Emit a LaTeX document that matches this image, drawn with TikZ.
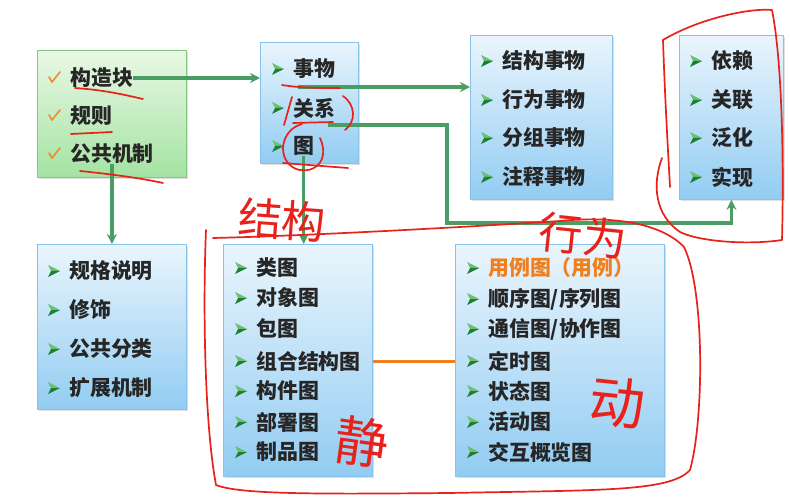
\documentclass[tikz,border=0pt]{standalone}
\usepackage{fontspec}
\setmainfont{Noto Sans CJK SC}
\newfontfamily\cjk{Noto Sans CJK SC}
\usetikzlibrary{shadows,arrows.meta,calc}
\definecolor{txt}{HTML}{262626}
\definecolor{bluetop}{HTML}{EAF5FD}
\definecolor{bluebot}{HTML}{92CCF2}
\definecolor{blueedge}{HTML}{86C2EA}
\definecolor{greentop}{HTML}{E9F8E5}
\definecolor{greenbot}{HTML}{A4E3A2}
\definecolor{greenedge}{HTML}{82C883}
\definecolor{lgreen}{HTML}{4A9E64}
\definecolor{bulldark}{HTML}{1C7F34}
\definecolor{bullight}{HTML}{6CC06E}
\definecolor{orng}{HTML}{F0801E}
\definecolor{chkor}{HTML}{EE8A2A}
\definecolor{pen}{HTML}{E8211B}
\tikzset{
  boxbase/.style={anchor=north west, inner sep=0pt, line width=0.8bp,
    drop shadow={opacity=0.25, shadow xshift=1.5bp, shadow yshift=-1.5bp}},
  bluebox/.style={boxbase, draw=blueedge, top color=bluetop, bottom color=bluebot},
  greenbox/.style={boxbase, draw=greenedge, top color=greentop, bottom color=greenbot},
  itemtext/.style={anchor=west, inner sep=0pt, text=txt,
    font=\cjk\bfseries\fontsize{21}{25}\selectfont},
  conn/.style={draw=lgreen, line width=3.2bp, -{Stealth[length=10bp,width=10bp]}},
  plainconn/.style={draw=orng, line width=3bp},
  chk/.style={draw=chkor, line width=1.6bp, line cap=round, line join=round},
  penline/.style={draw=pen, line width=1.7bp, line cap=round, line join=round},
  pentext/.style={text=pen, inner sep=0pt, font=\cjk\fontsize{44}{44}\selectfont}
}
\newcommand\itm[4]{%
  \fill[bullight] (#2,#3-6) -- (#2+12,#3) -- (#2+3,#3) -- cycle;
  \fill[bulldark] (#2+3,#3) -- (#2+12,#3) -- (#2,#3+6) -- cycle;
  \node[itemtext] (#1) at (#2+21,#3) {#4};}
\newcommand\chkitm[4]{%
  \draw[chk] (#2+1,#3-1) -- (#2+4,#3+4) -- (#2+12,#3-6);
  \node[itemtext] (#1) at (#2+22,#3) {#4};}
\begin{document}
\begin{tikzpicture}[x=1bp,y=-1bp]
\useasboundingbox[fill=white] (0,0) rectangle (790,503);
% boxes
\node[greenbox, minimum width=149bp, minimum height=127bp] (gbox) at (37,50) {};
\node[bluebox, minimum width=98bp, minimum height=121bp] (b1) at (260,42) {};
\node[bluebox, minimum width=142bp, minimum height=164bp] (b2) at (470,35) {};
\node[bluebox, minimum width=104bp, minimum height=164bp] (b3) at (679,35) {};
\node[bluebox, minimum width=149bp, minimum height=165bp] (b4) at (37,244) {};
\node[bluebox, minimum width=149bp, minimum height=232bp] (b5) at (223,244) {};
\node[bluebox, minimum width=209bp, minimum height=232bp] (b6) at (455,244) {};
% items
\chkitm{gk}{48}{78}{构造块}
\chkitm{gr}{48}{116}{规则}
\chkitm{gm}{48}{154}{公共机制}
\itm{sw}{272}{69}{事物}
\itm{gx}{272}{108}{关系}
\itm{tu}{272}{146}{图}
\itm{s1}{481}{61}{结构事物}
\itm{s2}{481}{100}{行为事物}
\itm{s3}{481}{138}{分组事物}
\itm{s4}{481}{177}{注释事物}
\itm{r1}{690}{61}{依赖}
\itm{r2}{690}{100}{关联}
\itm{r3}{690}{138}{泛化}
\itm{r4}{690}{177}{实现}
\itm{m1}{48}{271}{规格说明}
\itm{m2}{48}{310}{修饰}
\itm{m3}{48}{349}{公共分类}
\itm{m4}{48}{388}{扩展机制}
\itm{d1}{235}{268}{类图}
\itm{d2}{235}{298}{对象图}
\itm{d3}{235}{329}{包图}
\itm{d4}{235}{361}{组合结构图}
\itm{d5}{235}{391}{构件图}
\itm{d6}{235}{422}{部署图}
\itm{d7}{235}{452}{制品图}
\itm{u1}{467}{268}{\textcolor{orng}{用例图（用例）}}
\itm{u2}{467}{299}{顺序图/序列图}
\itm{u3}{467}{329}{通信图/协作图}
\itm{u4}{467}{361}{定时图}
\itm{u5}{467}{391}{状态图}
\itm{u6}{467}{422}{活动图}
\itm{u7}{467}{452}{交互概览图}
% connectors
\coordinate (c1) at (298,87);
\coordinate (c2) at (328,125);
\coordinate (c3) at (447,223);
\draw[conn] (gk.east) -- (gk.east -| b1.west);
\draw[conn] (c1) -- (c1 -| b2.west);
\draw[conn] (c2) -| (c3) -| (b3.south);
\draw[conn] (gm.south -| b4.north) -- (b4.north);
\draw[conn] (tu.south) -- (tu.south |- b5.north);
\draw[plainconn] (d4 -| b5.east) -- (d4 -| b6.west);
% red pen annotations
\draw[penline] (75,88) .. controls (105,90) and (125,95) .. (143,99);
\draw[penline] (71,134) -- (112,132);
\draw[penline] (80,171) .. controls (110,174) and (140,178) .. (163,183);
\draw[penline] (282,85) .. controls (300,88) and (320,88) .. (340,88);
\draw[penline] (292,97) -- (284,125);
\draw[penline] (343,96) .. controls (356,105) and (356,122) .. (345,130);
\draw[penline] (293,123) -- (333,122);
\draw[penline] (302,124) .. controls (280,130) and (276,160) .. (296,169)
  .. controls (315,175) and (330,160) .. (320,138);
\draw[penline] (283,163) -- (348,168);
\draw[penline] (663,40) .. controls (700,18) and (750,8) .. (772,10)
  .. controls (782,60) and (784,160) .. (782,240)
  .. controls (750,245) and (700,242) .. (680,232)
  .. controls (655,215) and (652,185) .. (662,158);
\draw[penline] (663,40) .. controls (665,100) and (668,150) .. (670,187);
\draw[penline] (213,238) .. controls (300,236) and (450,228) .. (560,221)
  .. controls (610,216) and (660,222) .. (684,247)
  .. controls (705,290) and (704,420) .. (690,470)
  .. controls (670,492) and (600,490) .. (450,493)
  .. controls (330,494) and (240,495) .. (216,485)
  .. controls (204,420) and (203,300) .. (206,230);
\node[pentext, rotate=-4] (hw1) at (282,220) {结构};
\node[pentext, rotate=-6] (hw2) at (583,236) {行为};
\node[pentext, font=\cjk\fontsize{54}{54}\selectfont, rotate=-8] (hw3) at (362,442) {静};
\node[pentext, font=\cjk\fontsize{56}{56}\selectfont, rotate=-6] (hw4) at (617,403) {动};
\end{tikzpicture}
\end{document}
